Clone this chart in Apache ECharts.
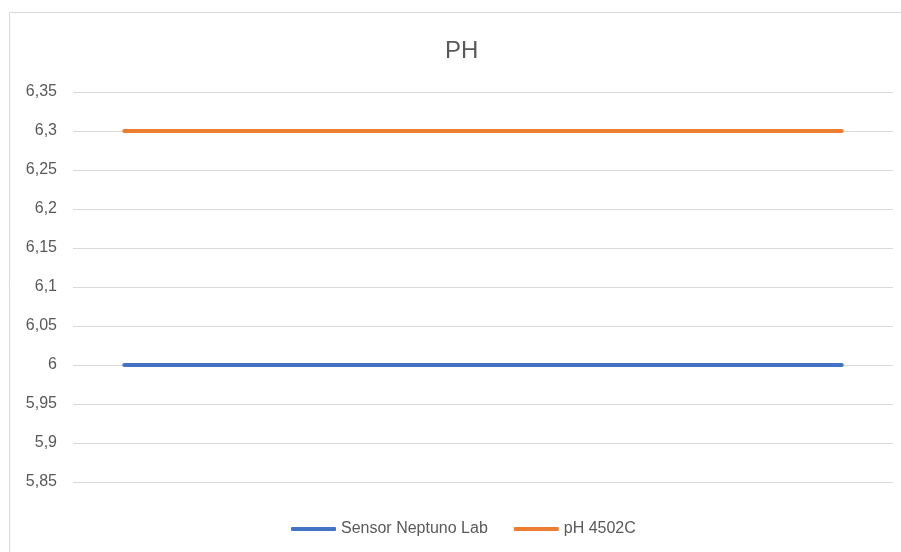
<!DOCTYPE html>
<html>
<head>
<meta charset="utf-8">
<script src="https://cdn.jsdelivr.net/npm/echarts@6/dist/echarts.min.js"></script>
<style>html,body{margin:0;padding:0;background:#fff}#c{width:901px;height:552px}</style>
</head>
<body>
<div id="c"></div>
<script>
var titleText = 'PH';
var categories = ['', '', '', '', '', '', '', ''];
var seriesNames = ['Sensor Neptuno Lab', 'pH 4502C'];
var sensorNeptuno = [6, 6, 6, 6, 6, 6, 6, 6];
var ph4502c = [6.3, 6.3, 6.3, 6.3, 6.3, 6.3, 6.3, 6.3];
var yMin = 5.85, yMax = 6.35, yStep = 0.05;

var chart = echarts.init(document.getElementById('c'), null, {renderer: 'canvas'});
var font = '"Liberation Sans", Arial, sans-serif';
chart.setOption({
  animation: false,
  backgroundColor: '#ffffff',
  title: {
    text: titleText, left: 440, top: 34,
    textStyle: {fontFamily: font, fontSize: 24, fontWeight: 'normal', color: '#595959'}
  },
  graphic: [{
    type: 'rect', shape: {x: 9.5, y: 12.5, width: 1200, height: 1000},
    style: {fill: 'none', stroke: '#d9d9d9', lineWidth: 1}, silent: true, z: -1
  }],
  legend: {
    left: 286, top: 516,
    itemWidth: 45, itemHeight: 4, itemGap: 26,
    icon: 'roundRect',
    textStyle: {fontFamily: font, fontSize: 16, color: '#595959'},
    data: seriesNames
  },
  grid: {left: 73, right: 8, top: 92, bottom: 70, containLabel: false},
  xAxis: {
    type: 'category', data: categories, boundaryGap: true,
    axisLine: {show: false}, axisTick: {show: false}, axisLabel: {show: false},
    splitLine: {show: false}
  },
  yAxis: {
    type: 'value', min: yMin, max: yMax, interval: yStep,
    axisLine: {show: false}, axisTick: {show: false},
    axisLabel: {
      margin: 16, fontFamily: font, fontSize: 16, color: '#595959',
      formatter: function (v) { return String(+v.toFixed(2)).replace('.', ','); }
    },
    splitLine: {lineStyle: {color: '#d9d9d9', width: 1}}
  },
  series: [
    {name: seriesNames[0], type: 'line', data: sensorNeptuno, symbol: 'none', showSymbol: false,
     lineStyle: {color: '#4472C4', width: 4, cap: 'round'}, itemStyle: {color: '#4472C4'}},
    {name: seriesNames[1], type: 'line', data: ph4502c, symbol: 'none', showSymbol: false,
     lineStyle: {color: '#ED7D31', width: 4, cap: 'round'}, itemStyle: {color: '#ED7D31'}}
  ]
});
</script>
</body>
</html>
